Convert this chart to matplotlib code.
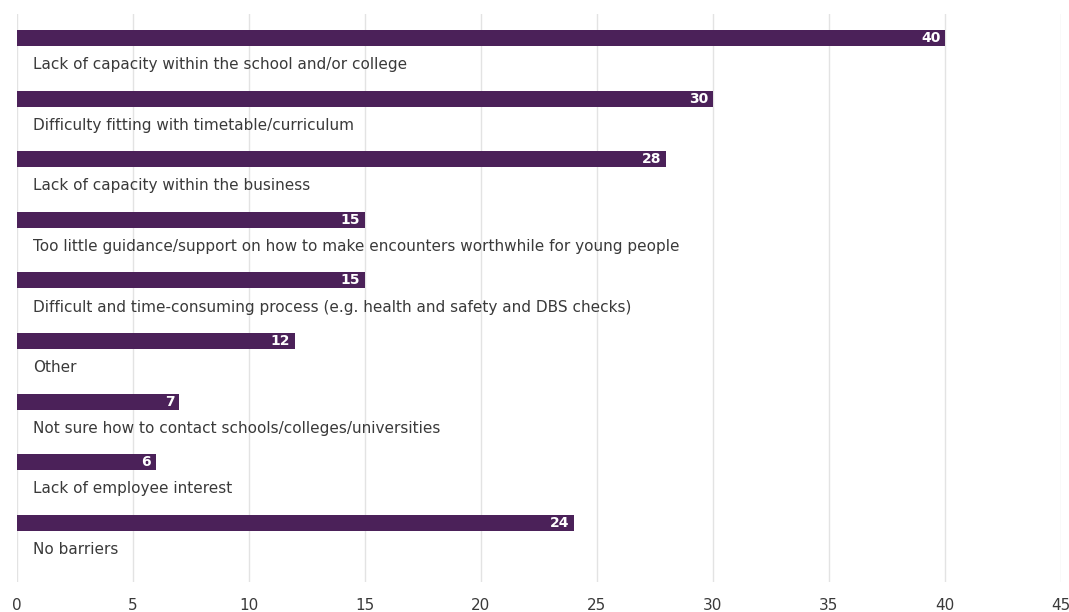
import matplotlib
matplotlib.use("Agg")
import matplotlib.pyplot as plt

# barriers to employer encounters (%)
categories = [
    "Lack of capacity within the school and/or college",
    "Difficulty fitting with timetable/curriculum",
    "Lack of capacity within the business",
    "Too little guidance/support on how to make encounters worthwhile for young people",
    "Difficult and time-consuming process (e.g. health and safety and DBS checks)",
    "Other",
    "Not sure how to contact schools/colleges/universities",
    "Lack of employee interest",
    "No barriers",
]
values = [40, 30, 28, 15, 15, 12, 7, 6, 24]
xticks = [0, 5, 10, 15, 20, 25, 30, 35, 40, 45]

bar_color = "#4b2159"
text_color = "#3a3a3a"

plt.rcParams["font.family"] = ["DejaVu Sans"]

fig = plt.figure(figsize=(10.69, 6.12), dpi=100)
ax = fig.add_axes([16.5 / 1069, 1 - 582 / 612, (1061 - 16.5) / 1069, (582 - 14) / 612])

pos = list(range(len(categories)))
ax.barh(pos, values, height=0.265, color=bar_color, zorder=3)

for i in pos:
    # value inside the bar end, category name underneath
    ax.text(values[i] - 0.2, i, str(values[i]), color="white", fontsize=10,
            fontweight="bold", ha="right", va="center", zorder=4)
    ax.text(0.7, i + 0.44, categories[i], color=text_color, fontsize=11,
            ha="left", va="center", zorder=4)

ax.set_xlim(0, 45)
ax.set_ylim(8.977, -0.396)
ax.set_xticks(xticks)
ax.set_xticklabels([str(t) for t in xticks], fontsize=11, color=text_color)
ax.set_yticks([])
ax.tick_params(axis="x", length=0, pad=11.5)
ax.grid(axis="x", color="#e3e3e3", linewidth=1, zorder=0)
for s in ax.spines.values():
    s.set_visible(False)

fig.savefig("out.png", dpi=100)
